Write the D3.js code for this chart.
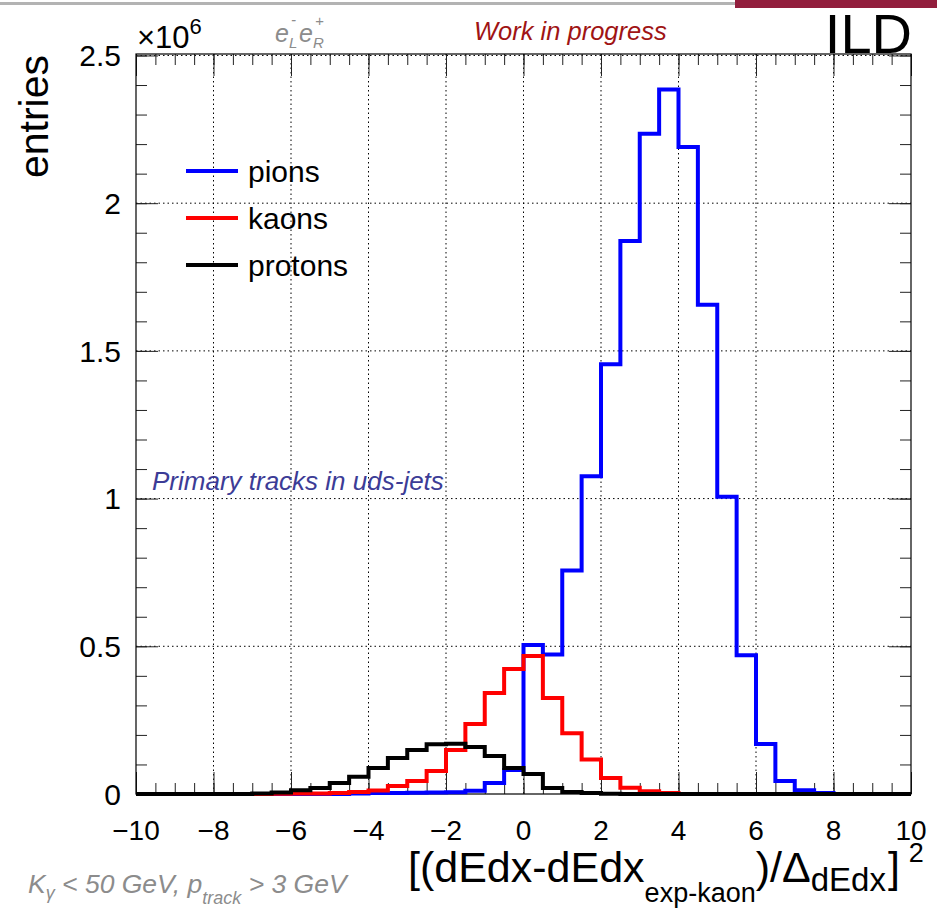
<!DOCTYPE html>
<meta charset="utf-8">
<script src="https://d3js.org/d3.v7.min.js"></script>
<style>
  body { margin: 0; background: #fff; }
  text { font-family: "Liberation Sans", Arial, sans-serif; }
</style>
<svg id="chart" width="937" height="914"></svg>
<script>
// bins of width 0.5 from -10 to 10 (low edges)
var binEdges = d3.range(-10, 10, 0.5);
var xMax = 10;

// entries in units of 10^6, one value per bin
var pions = [0, 0, 0, 0, 0, 0, 0, 0, 0, 0,
             0, 0.002, 0.003, 0.003, 0.004, 0.005, 0.006, 0.011, 0.037, 0.081,
             0.504, 0.472, 0.757, 1.076, 1.455, 1.872, 2.235, 2.385, 2.19, 1.656,
             1.006, 0.470, 0.169, 0.044, 0.013, 0.003, 0, 0, 0, 0];
var kaons = [0, 0, 0, 0, 0, 0, 0, 0.001, 0.002, 0.002,
             0.003, 0.007, 0.012, 0.027, 0.044, 0.078, 0.149, 0.237, 0.342, 0.423,
             0.467, 0.325, 0.206, 0.117, 0.054, 0.021, 0.009, 0.003, 0, 0,
             0, 0, 0, 0, 0, 0, 0, 0, 0, 0];
var protons = [0, 0, 0, 0, 0, 0, 0.002, 0.005, 0.013, 0.020,
               0.037, 0.058, 0.088, 0.122, 0.149, 0.168, 0.170, 0.159, 0.129, 0.088,
               0.068, 0.020, 0.007, 0.003, 0.001, 0, 0, 0, 0, 0,
               0, 0, 0, 0, 0, 0, 0, 0, 0, 0];

var xTicks = [-10, -8, -6, -4, -2, 0, 2, 4, 6, 8, 10];
var xTickLabels = ["\u221210", "\u22128", "\u22126", "\u22124", "\u22122", "0", "2", "4", "6", "8", "10"];
var yTicks = [0, 0.5, 1, 1.5, 2, 2.5];
var yTickLabels = ["0", "0.5", "1", "1.5", "2", "2.5"];

var seriesNames = ["pions", "kaons", "protons"];
var seriesColors = ["#0000ff", "#ff0000", "#000000"];

var svg = d3.select("#chart");
var pLeft = 136, pRight = 911, pTop = 54, pBottom = 794;

var x = d3.scaleLinear().domain([-10, 10]).range([pLeft, pRight]);
var y = d3.scaleLinear().domain([0, 2.505]).range([pBottom, pTop]);

// header bar
svg.append("rect").attr("x", 0).attr("y", 2).attr("width", 736).attr("height", 3).attr("fill", "#b3b3b3");
svg.append("rect").attr("x", 735).attr("y", 0).attr("width", 202).attr("height", 8).attr("fill", "#921e3d");

// grid
var grid = svg.append("g").attr("stroke", "#000").attr("stroke-width", 1).attr("stroke-dasharray", "1.5,3");
grid.selectAll(".gx").data(xTicks.slice(1, -1)).enter().append("line")
    .attr("x1", function (d) { return x(d); }).attr("x2", function (d) { return x(d); })
    .attr("y1", pTop).attr("y2", pBottom);
grid.selectAll(".gy").data(yTicks.slice(1)).enter().append("line")
    .attr("x1", pLeft).attr("x2", pRight)
    .attr("y1", function (d) { return y(d); }).attr("y2", function (d) { return y(d); });

// axes ticks (inward, on all four sides)
var xMinor = d3.range(-10, 10.01, 0.5);
var yMinor = d3.range(0, 2.501, 0.1);
function tickAxis(axis, pos, values, size) {
    var g = svg.append("g").attr("transform", pos)
        .call(axis.tickValues(values).tickSize(size).tickFormat(""));
    g.select(".domain").remove();
    g.selectAll("line").attr("stroke", "#222");
}
tickAxis(d3.axisBottom(x), "translate(0," + pBottom + ")", xMinor, -11);
tickAxis(d3.axisBottom(x), "translate(0," + pBottom + ")", xTicks, -22);
tickAxis(d3.axisTop(x), "translate(0," + pTop + ")", xMinor, -11);
tickAxis(d3.axisTop(x), "translate(0," + pTop + ")", xTicks, -22);
tickAxis(d3.axisLeft(y), "translate(" + pLeft + ",0)", yMinor, -11);
tickAxis(d3.axisLeft(y), "translate(" + pLeft + ",0)", yTicks, -22);
tickAxis(d3.axisRight(y), "translate(" + pRight + ",0)", yMinor, -11);
tickAxis(d3.axisRight(y), "translate(" + pRight + ",0)", yTicks, -22);

// frame
svg.append("rect").attr("x", pLeft).attr("y", pTop).attr("width", pRight - pLeft).attr("height", pBottom - pTop)
    .attr("fill", "none").attr("stroke", "#000").attr("stroke-width", 1.2);

// tick labels
svg.selectAll(".xl").data(xTicks).enter().append("text")
    .attr("x", function (d) { return x(d); }).attr("y", pBottom + 46)
    .attr("text-anchor", "middle").attr("font-size", 28)
    .text(function (d, i) { return xTickLabels[i]; });
svg.selectAll(".yl").data(yTicks).enter().append("text")
    .attr("x", pLeft - 15).attr("y", function (d) { return y(d); }).attr("dy", "0.36em")
    .attr("text-anchor", "end").attr("font-size", 30)
    .text(function (d, i) { return yTickLabels[i]; });

// histograms
var line = d3.line()
    .x(function (d) { return x(d[0]); })
    .y(function (d) { return y(d[1]); })
    .curve(d3.curveStepAfter);
[pions, kaons, protons].forEach(function (vals, k) {
    var pts = binEdges.map(function (e, i) { return [e, vals[i]]; });
    pts.push([xMax, vals[vals.length - 1]]);
    svg.append("path").datum(pts)
        .attr("fill", "none").attr("stroke", seriesColors[k]).attr("stroke-width", 4)
        .attr("d", line);
});

// legend
var legendY = [171, 218, 265];
seriesNames.forEach(function (n, i) {
    svg.append("line").attr("x1", 186).attr("x2", 238).attr("y1", legendY[i]).attr("y2", legendY[i])
        .attr("stroke", seriesColors[i]).attr("stroke-width", 4);
    svg.append("text").attr("x", 248).attr("y", legendY[i] + 11).attr("font-size", 30).text(n);
});

// axis titles
svg.append("text").attr("transform", "translate(48,55) rotate(-90)")
    .attr("text-anchor", "end").attr("font-size", 41).text("entries");

var xt = svg.append("text").attr("x", 408).attr("y", 882).attr("font-size", 43);
xt.append("tspan").text("[(dEdx-dEdx");
xt.append("tspan").attr("font-size", 27).attr("dy", 20).text("exp-kaon");
xt.append("tspan").attr("dy", -20).text(")/\u0394");
xt.append("tspan").attr("font-size", 33).attr("dy", 9).text("dEdx");
xt.append("tspan").attr("dy", -9).attr("dx", 2).text("]");
xt.append("tspan").attr("font-size", 27).attr("dy", -20).attr("dx", 9).text("2");

var ex = svg.append("text").attr("x", 137).attr("y", 48).attr("font-size", 31);
ex.append("tspan").text("\u00d710");
ex.append("tspan").attr("font-size", 22).attr("dy", -14).text("6");

// beam polarisation label
var gray = "#8c8c8c";
var pol = svg.append("g").attr("fill", gray).attr("font-style", "italic");
pol.append("text").attr("x", 275).attr("y", 42).attr("font-size", 25).text("e");
pol.append("text").attr("x", 291).attr("y", 25).attr("font-size", 15).text("-");
pol.append("text").attr("x", 289).attr("y", 48).attr("font-size", 15).text("L");
pol.append("text").attr("x", 299).attr("y", 42).attr("font-size", 25).text("e");
pol.append("text").attr("x", 315).attr("y", 26).attr("font-size", 15).text("+");
pol.append("text").attr("x", 313).attr("y", 48).attr("font-size", 15).text("R");

svg.append("text").attr("x", 474).attr("y", 40).attr("font-size", 25.5).attr("font-style", "italic")
    .attr("fill", "#a01414").text("Work in progress");

svg.append("text").attr("x", 912).attr("y", 53).attr("text-anchor", "end").attr("font-size", 56)
    .text("ILD");

svg.append("text").attr("x", 152).attr("y", 490).attr("font-size", 26).attr("font-style", "italic")
    .attr("fill", "#3c3c96").text("Primary tracks in uds-jets");

var cut = svg.append("text").attr("x", 28).attr("y", 893).attr("font-size", 26.5)
    .attr("font-style", "italic").attr("fill", gray);
cut.append("tspan").text("K");
cut.append("tspan").attr("font-size", 18).attr("dy", 6).text("\u03b3");
cut.append("tspan").attr("dy", -6).text(" < 50 GeV, p");
cut.append("tspan").attr("font-size", 18).attr("dy", 11).text("track");
cut.append("tspan").attr("dy", -11).text(" > 3 GeV");
</script>
